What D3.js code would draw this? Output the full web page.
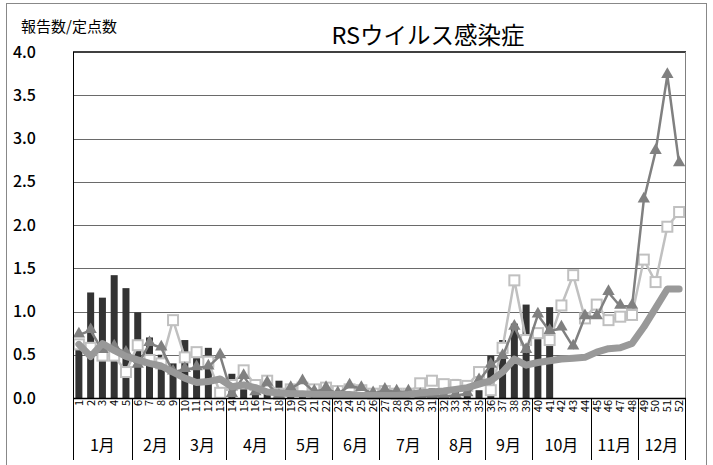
<!DOCTYPE html>
<html lang="ja">
<head>
<meta charset="UTF-8">
<title>RSウイルス感染症</title>
<script src="https://cdn.jsdelivr.net/npm/d3@7"></script>
<style>
  body { margin: 0; background: #fff; }
  text { font-family: "Noto Sans CJK JP", "Noto Sans", sans-serif; fill: #000; }
  .grid line { stroke: #6a6a6a; stroke-width: 1; }
</style>
</head>
<body>
<svg width="713" height="465"></svg>
<script>
// 週 (categories)
var weeks = [1,2,3,4,5,6,7,8,9,10,11,12,13,14,15,16,17,18,19,20,21,22,23,24,25,26,
             27,28,29,30,31,32,33,34,35,36,37,38,39,40,41,42,43,44,45,46,47,48,49,50,51,52];
var months = ["1月","2月","3月","4月","5月","6月","7月","8月","9月","10月","11月","12月"];
var monthWeeks = [5,4,4,5,4,4,5,4,4,5,4,4];
var yTicks = [0,0.5,1,1.5,2,2.5,3,3.5,4];

// 今年 (棒)
var thisYear = [0.65,1.22,1.16,1.42,1.27,0.99,0.70,0.50,0.40,0.67,0.46,0.58,0.07,0.28,0.10,0.08,
                0.05,0.20,0.03,0.05,0.02,0.03,0.10,0.05,0.03,0.02,0.02,0.02,0.03,0.05,0.11,0.08,
                0.22,0.10,0.09,0.49,0.67,0.86,1.08,0.68,1.05];
// 前年 (▲)
var lastYear = [0.73,0.78,0.55,0.59,0.52,0.38,0.63,0.58,0.30,0.33,0.35,0.36,0.49,0.04,0.25,0.06,
                0.17,0.02,0.11,0.19,0.07,0.11,0.05,0.14,0.11,0.05,0.09,0.07,0.07,0.03,0.02,0.02,
                0.03,0.05,0.20,0.38,0.48,0.82,0.55,0.96,0.77,0.81,0.59,0.94,0.94,1.22,1.06,1.06,
                2.29,2.85,3.73,2.71];
// 前々年 (□)
var twoYearsAgo = [0.62,0.58,0.49,0.49,0.30,0.61,0.44,0.40,0.90,0.47,0.53,0.42,0.06,0.15,0.32,0.15,
                   0.20,0.05,0.10,0.12,0.10,0.12,0.08,0.10,0.09,0.05,0.08,0.05,0.05,0.17,0.20,0.16,
                   0.15,0.14,0.30,0.09,0.58,1.36,0.67,0.75,0.67,1.07,1.42,0.92,1.08,0.90,0.94,0.96,
                   1.60,1.34,1.98,2.15];
// 過去平均 (太線)
var average = [0.62,0.48,0.63,0.55,0.48,0.44,0.40,0.37,0.30,0.23,0.18,0.19,0.22,0.13,0.15,0.12,
               0.07,0.06,0.05,0.05,0.04,0.04,0.04,0.04,0.03,0.03,0.03,0.03,0.04,0.06,0.07,0.08,
               0.10,0.12,0.16,0.20,0.30,0.45,0.38,0.41,0.43,0.45,0.46,0.47,0.53,0.57,0.58,0.63,
               0.82,1.04,1.26,1.26];

var svg = d3.select("svg");
var plotL = 73, plotR = 685, plotT = 52, plotB = 398;

var x = d3.scaleBand().domain(weeks).range([plotL, plotR]);
var y = d3.scaleLinear().domain([0, 4]).range([plotB, plotT]);
var cx = function(w) { return x(w) + x.bandwidth() / 2; };

// 外枠
svg.append("rect")
  .attr("x", 6.5).attr("y", 3.5).attr("width", 700).attr("height", 475)
  .attr("fill", "none").attr("stroke", "#888");

// タイトル
svg.append("text").attr("x", 428).attr("y", 44)
  .attr("text-anchor", "middle").attr("font-size", 23.5).text("RSウイルス感染症");
svg.append("text").attr("x", 21).attr("y", 32)
  .attr("font-size", 15).text("報告数/定点数");

// グリッド
svg.append("g").attr("class", "grid")
  .selectAll("line").data(yTicks.filter(function(d) { return d > 0 && d < 4; }))
  .enter().append("line")
  .attr("x1", plotL).attr("x2", plotR)
  .attr("y1", function(d) { return Math.round(y(d)) + 0.5; })
  .attr("y2", function(d) { return Math.round(y(d)) + 0.5; });

svg.append("line").attr("x1", plotL).attr("x2", plotR + 1)
  .attr("y1", plotT).attr("y2", plotT).attr("stroke", "#404040").attr("stroke-width", 2);
svg.append("line").attr("x1", plotR + 0.5).attr("x2", plotR + 0.5)
  .attr("y1", plotT).attr("y2", plotB).attr("stroke", "#808080");

// Y軸ラベル
svg.append("g").selectAll("text").data(yTicks).enter().append("text")
  .attr("x", 36).attr("y", function(d) { return y(d); })
  .attr("dy", "0.35em").attr("text-anchor", "end").attr("font-size", 16)
  .attr("font-weight", 500)
  .text(function(d) { return d.toFixed(1); });

// 棒
svg.append("g").selectAll("rect").data(thisYear).enter().append("rect")
  .attr("x", function(d, i) { return cx(weeks[i]) - 3.5; })
  .attr("width", 7)
  .attr("y", function(d) { return y(d); })
  .attr("height", function(d) { return plotB - y(d); })
  .attr("fill", "#333");

var line = d3.line()
  .x(function(d, i) { return cx(weeks[i]); })
  .y(function(d) { return y(d); });

// □
svg.append("path").datum(twoYearsAgo).attr("d", line)
  .attr("fill", "none").attr("stroke", "#c0c0c0").attr("stroke-width", 2.5);
svg.append("g").selectAll("rect").data(twoYearsAgo).enter().append("rect")
  .attr("x", function(d, i) { return cx(weeks[i]) - 5; })
  .attr("y", function(d) { return y(d) - 5; })
  .attr("width", 10).attr("height", 10)
  .attr("fill", "#fff").attr("stroke", "#c0c0c0").attr("stroke-width", 2);

// ▲
svg.append("path").datum(lastYear).attr("d", line)
  .attr("fill", "none").attr("stroke", "#808080").attr("stroke-width", 2.5);
var tri = d3.symbol().type(d3.symbolTriangle).size(66);
svg.append("g").selectAll("path").data(lastYear).enter().append("path")
  .attr("d", tri)
  .attr("transform", function(d, i) { return "translate(" + cx(weeks[i]) + "," + (y(d) - 1) + ")"; })
  .attr("fill", "#808080");

// 平均
svg.append("path").datum(average).attr("d", line)
  .attr("fill", "none").attr("stroke", "#999").attr("stroke-width", 7)
  .attr("stroke-linecap", "round").attr("stroke-linejoin", "round");

// 軸
svg.append("line").attr("x1", plotL).attr("x2", plotR + 1)
  .attr("y1", plotB + 0.5).attr("y2", plotB + 0.5).attr("stroke", "#000").attr("stroke-width", 1.5);
svg.append("line").attr("x1", plotL + 0.5).attr("x2", plotL + 0.5)
  .attr("y1", plotT).attr("y2", 460).attr("stroke", "#000");

// 週ラベル
svg.append("g").selectAll("text").data(weeks).enter().append("text")
  .attr("transform", function(d) { return "translate(" + cx(d) + "," + (plotB + 2) + ") rotate(-90)"; })
  .attr("text-anchor", "end").attr("dy", "0.35em").attr("font-size", 11)
  .text(function(d) { return d; });

// 月
var acc = 0;
var monthSpans = monthWeeks.map(function(n) { var s = acc; acc += n; return [s, acc]; });
svg.append("g").selectAll("line").data(monthSpans).enter().append("line")
  .attr("x1", function(d) { return Math.round(x(weeks[d[1] - 1]) + x.bandwidth()) + 0.5; })
  .attr("x2", function(d) { return Math.round(x(weeks[d[1] - 1]) + x.bandwidth()) + 0.5; })
  .attr("y1", plotB).attr("y2", 460).attr("stroke", "#000");
svg.append("g").selectAll("text").data(monthSpans).enter().append("text")
  .attr("x", function(d, i) { return (x(weeks[d[0]]) + x(weeks[d[1] - 1]) + x.bandwidth()) / 2; })
  .attr("y", 451).attr("text-anchor", "middle").attr("font-size", 16)
  .text(function(d, i) { return months[i]; });
</script>
</body>
</html>
